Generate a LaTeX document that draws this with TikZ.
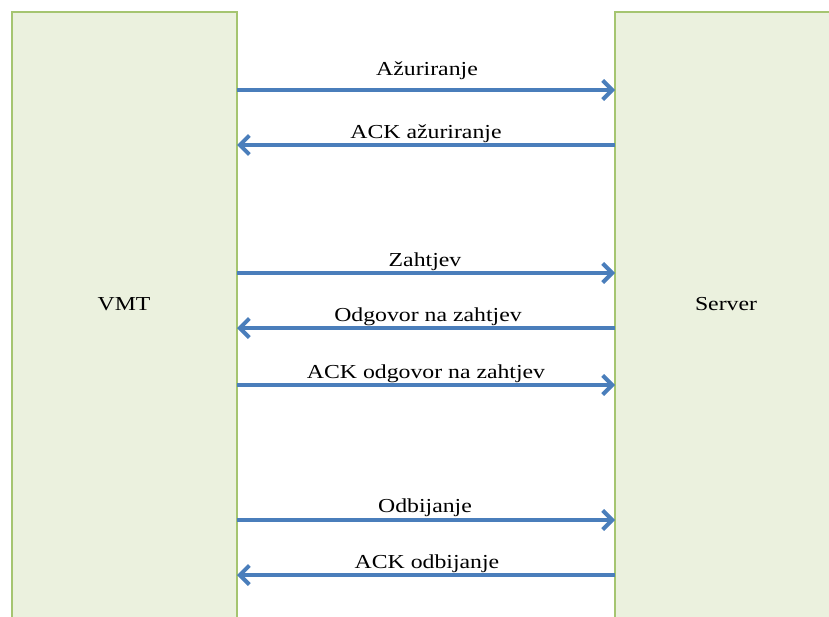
\documentclass[tikz,border=0pt]{standalone}
\usepackage{fontspec}
\setmainfont{Liberation Serif}
\usetikzlibrary{arrows.meta}
\definecolor{boxfill}{RGB}{235,241,222}
\definecolor{boxline}{RGB}{165,197,112}
\definecolor{arrblue}{RGB}{74,126,187}
\newcommand\sx[1]{\scalebox{1.2}[1]{#1}}
\begin{document}
\begin{tikzpicture}[x=1pt,y=-1pt,
 lane/.style={draw=boxline, fill=boxfill, line width=2.2pt, inner sep=0pt, outer sep=0pt, anchor=north west},
 lbl/.style={font=\fontsize{19.8}{22}\selectfont, inner sep=0pt, anchor=base},
 msg/.style={draw=arrblue, line width=4pt, -{Straight Barb[length=9.5pt,width=19pt]}}]
\path[use as bounding box, clip] (0,0) rectangle (829,616);
\node[lane, minimum width=225pt, minimum height=650pt] (vmt) at (12,12) {};
\node[lane, minimum width=260pt, minimum height=650pt] (srv) at (615,12) {};
\node[lbl] (tvmt) at (124,310) {\sx{VMT}};
\node[lbl] (tsrv) at (726,310) {\sx{Server}};
% messages
\draw[msg] (vmt.east |- 0,90) -- (srv.west |- 0,90);
\node[lbl] (l1) at (427,75) {\sx{Ažuriranje}};
\draw[msg] (srv.west |- 0,145) -- (vmt.east |- 0,145);
\node[lbl] (l2) at (426,138) {\sx{ACK ažuriranje}};
\draw[msg] (vmt.east |- 0,273) -- (srv.west |- 0,273);
\node[lbl] (l3) at (425,266) {\sx{Zahtjev}};
\draw[msg] (srv.west |- 0,328) -- (vmt.east |- 0,328);
\node[lbl] (l4) at (428,321) {\sx{Odgovor na zahtjev}};
\draw[msg] (vmt.east |- 0,385) -- (srv.west |- 0,385);
\node[lbl] (l5) at (426,378) {\sx{ACK odgovor na zahtjev}};
\draw[msg] (vmt.east |- 0,520) -- (srv.west |- 0,520);
\node[lbl] (l6) at (425,512) {\sx{Odbijanje}};
\draw[msg] (srv.west |- 0,575) -- (vmt.east |- 0,575);
\node[lbl] (l7) at (427,568) {\sx{ACK odbijanje}};
\end{tikzpicture}
\end{document}
